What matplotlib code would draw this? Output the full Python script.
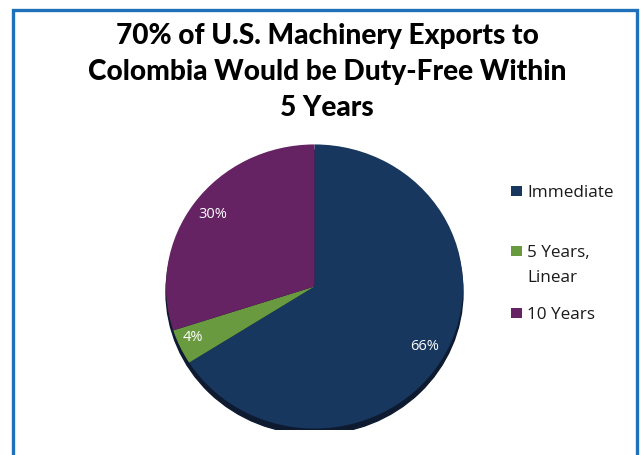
import matplotlib
matplotlib.use("Agg")
import matplotlib.pyplot as plt
from matplotlib.patches import Rectangle, Ellipse

categories = ["Immediate", "5 Years,\nLinear", "10 Years"]
values = [66, 4, 30]
labels = ["66%", "4%", "30%"]
colors = ["#17375E", "#6A9A3F", "#652364"]
title = "70% of U.S. Machinery Exports to\nColombia Would be Duty-Free Within\n5 Years"

W, H = 641, 456
fig = plt.figure(figsize=(W / 100, H / 100), dpi=100)
fig.patch.set_facecolor("white")
renderer = fig.canvas.get_renderer()

fig.add_artist(Rectangle((13 / W, -0.05), (637 - 13) / W, 1.05 - 10.5 / H,
                         transform=fig.transFigure, fill=False,
                         edgecolor="#1F70B8", linewidth=2.4))

# title, one text per line, size fitted to the reference's widest line (~479 px)
tfont = dict(fontweight=900, family="Lato", color="black")
tlines = title.split("\n")
probe = fig.text(0, 0, tlines[1], fontsize=20, **tfont)
tsize = 20 * 479 / probe.get_window_extent(renderer).width
probe.remove()
for i, line in enumerate(tlines):
    fig.text(327 / W, 1 - (44 + 36 * i) / H, line, ha="center", va="baseline",
             fontsize=tsize, **tfont)

# pie (slightly flattened, with a dark rim at the bottom)
cx, cy = 314.5, 287.5
axw, axh = 300, 287
ax = fig.add_axes([(cx - axw / 2) / W, 1 - (cy + axh / 2) / H, axw / W, axh / H])
r = 0.99
ax.add_patch(Ellipse((0.0, -0.04), 2 * r, 2 * r, color="#0E1A30", zorder=0))
ax.pie(values, colors=colors, startangle=90, counterclock=False,
       radius=r, wedgeprops=dict(linewidth=0), frame=True)
ax.set_xlim(-1, 1)
ax.set_ylim(-1, 1)
ax.set_aspect("auto")
ax.axis("off")

label_pos = [(425, 347), (193, 338), (213, 215)]
for lab, (px, py) in zip(labels, label_pos):
    fig.text(px / W, 1 - py / H, lab, ha="center", va="center", color="white",
             fontsize=10.5, family="Open Sans")

# legend
sq_y = [192, 252, 314]
base_y = [197, 257, 319]
for cat, col, sy, by in zip(categories, colors, sq_y, base_y):
    fig.add_artist(Rectangle((511 / W, 1 - (sy + 5) / H), 11 / W, 10 / H,
                             transform=fig.transFigure, facecolor=col, edgecolor="none"))
    for j, part in enumerate(cat.split("\n")):
        fig.text(527 / W, 1 - (by + 25 * j) / H, part, ha="left", va="baseline",
                 fontsize=12.3, family="Open Sans", color="#1a1a1a")

fig.savefig("out.png", dpi=100)
